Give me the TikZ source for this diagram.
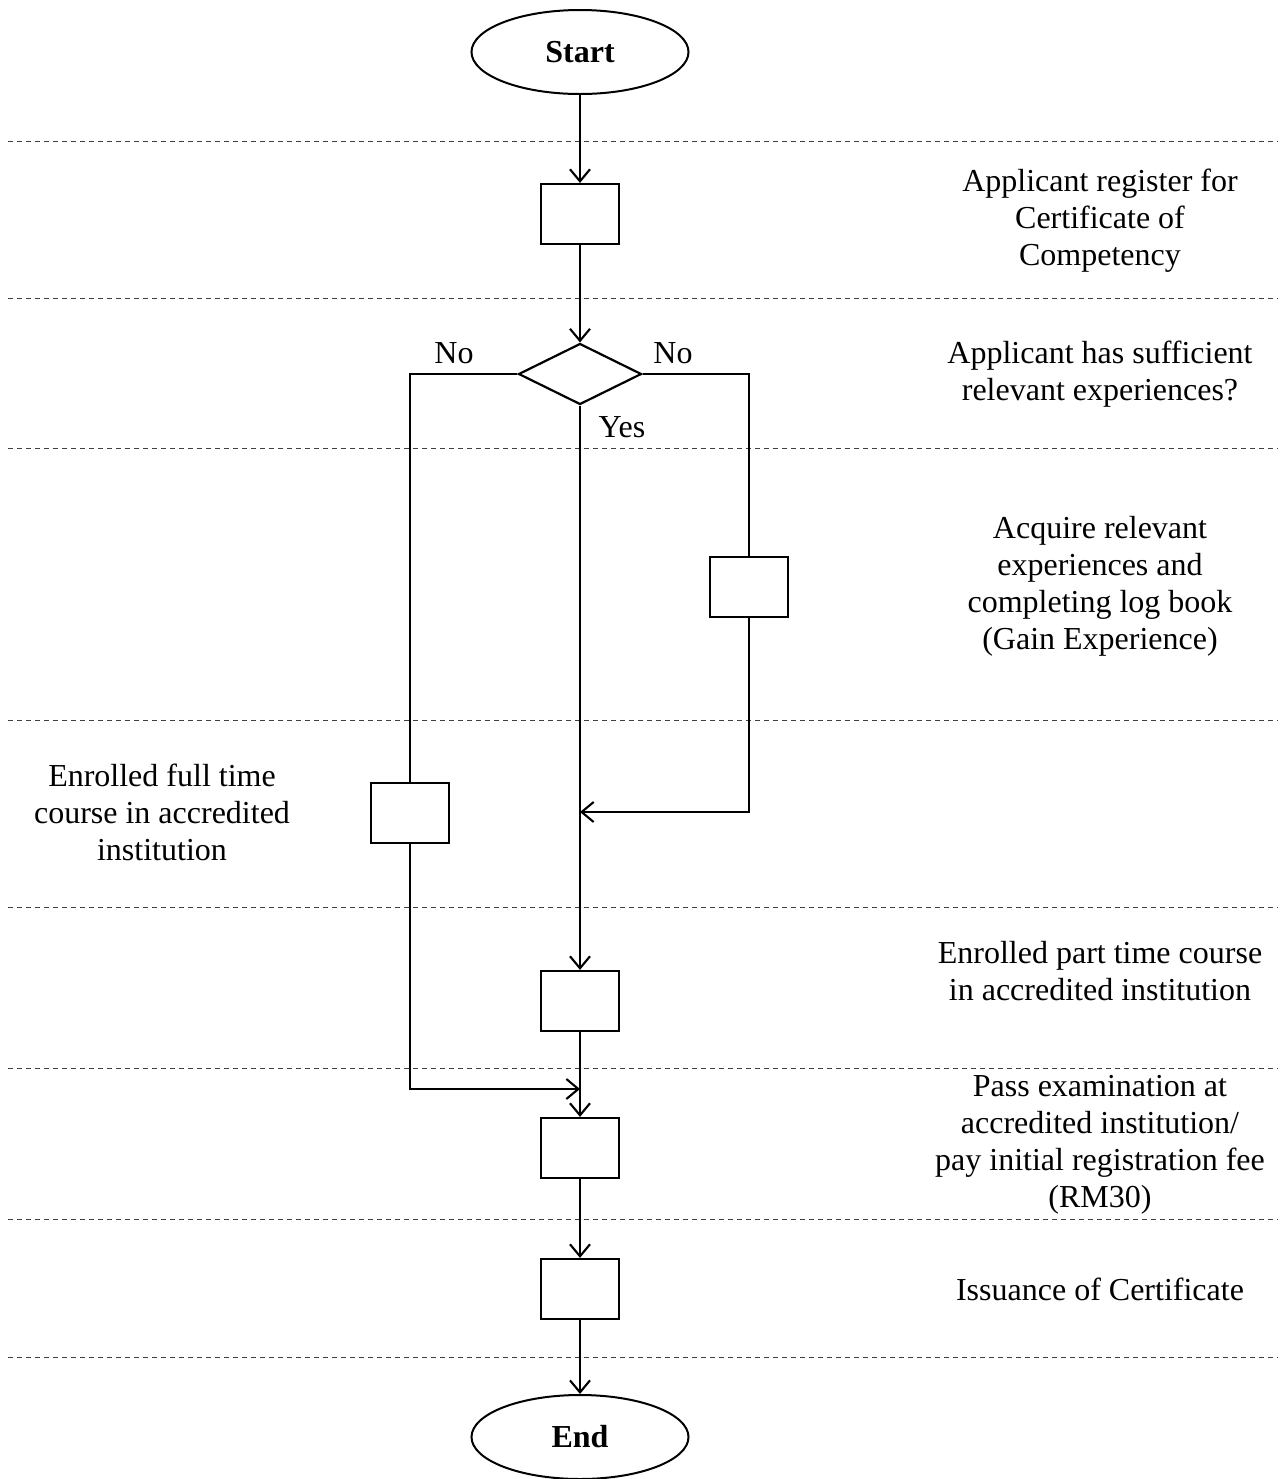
\documentclass[tikz,border=0pt]{standalone}
\usepackage{fontspec}
\setmainfont{Liberation Serif}
\usetikzlibrary{shapes.geometric,arrows.meta}
\begin{document}
\begin{tikzpicture}[x=0.5pt,y=-0.5pt,
  box/.style={draw,line width=1.1pt,minimum width=39pt,minimum height=30pt,inner sep=0pt},
  term/.style={draw,ellipse,line width=1pt,minimum width=108.5pt,minimum height=42pt,inner sep=0pt,font=\fontsize{16}{18}\selectfont\bfseries},
  dec/.style={draw,diamond,line width=1.1pt,minimum width=61.5pt,minimum height=30.5pt,inner sep=0pt},
  lbl/.style={align=center,inner sep=0pt,font=\fontsize{16}{18.5}\selectfont},
  conn/.style={line width=1.05pt},
  arr/.style={conn,-{Straight Barb[length=6pt,width=10pt,line width=1.05pt]}},
  sep/.style={dashed,dash pattern=on 2.5pt off 2pt,line width=0.5pt,black!75}]
\useasboundingbox (0,0) rectangle (1281,1479);
% separators
\foreach \yy in {141,298,448,720,907,1068,1219,1357}
  \draw[sep] (8,\yy) -- (1278,\yy);
% nodes
\node[term] (start) at (580,52) {Start};
\node[box] (reg) at (580,214) {};
\node[dec] (d) at (580,374) {};
\node[box] (exp) at (749,587) {};
\node[box] (full) at (410,813) {};
\node[box] (part) at (580,1001) {};
\node[box] (pass) at (580,1148) {};
\node[box] (iss) at (580,1289) {};
\node[term] (end) at (580,1437) {End};
\coordinate (j1) at (580,1089);
\coordinate (j2) at (580,812);
% labels
\node[lbl] (t1) at (1100,221) {Applicant register for\\Certificate of\\Competency};
\node[lbl] (t2) at (1100,374) {Applicant has sufficient\\relevant experiences?};
\node[lbl] (t3) at (1100,586) {Acquire relevant\\experiences and\\completing log book\\(Gain Experience)};
\node[lbl] (t4) at (162,812) {Enrolled full time\\course in accredited\\institution};
\node[lbl] (t5) at (1100,971) {Enrolled part time course\\in accredited institution};
\node[lbl] (t6) at (1100,1145) {Pass examination at\\accredited institution/\\pay initial registration fee\\(RM30)};
\node[lbl] (t7) at (1100,1289) {Issuance of Certificate};
\node[lbl] (no1) at (454,353) {No};
\node[lbl] (no2) at (673,353) {No};
\node[lbl] (yes) at (622,427) {Yes};
% connectors
\draw[arr] (start) -- (reg);
\draw[arr] (reg) -- (d);
\draw[conn] (d.west) -| (full.north);
\draw[conn] (d.east) -| (exp.north);
\draw[arr] (full.south) |- (j1);
\draw[arr] (exp.south) |- (j2);
\draw[arr] (d.south) -- (part.north);
\draw[arr] (part) -- (pass);
\draw[arr] (pass) -- (iss);
\draw[arr] (iss) -- (end);
\end{tikzpicture}
\end{document}
